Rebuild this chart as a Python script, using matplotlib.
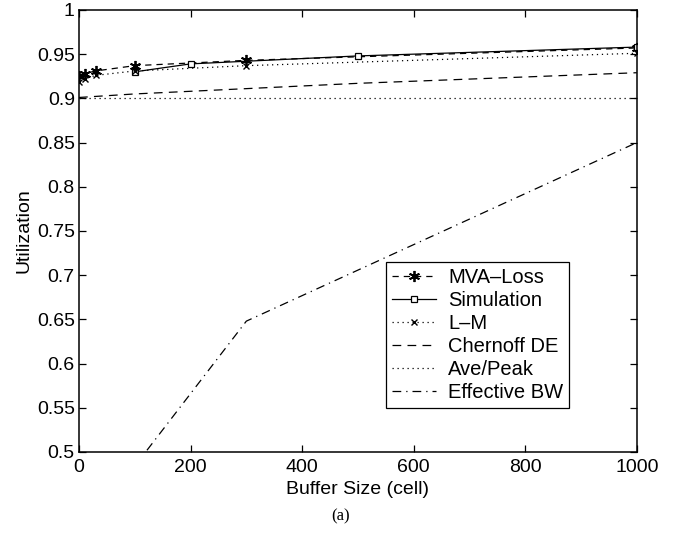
import matplotlib
matplotlib.use("Agg")
import matplotlib.pyplot as plt

plt.rcParams['font.family'] = ['Liberation Sans', 'DejaVu Sans']

# buffer sizes (cells) and utilization per method
mva_x = [0, 10, 30, 100, 300, 1000]
mva_y = [0.925, 0.928, 0.931, 0.937, 0.943, 0.957]

sim_x = [100, 200, 500, 1000]
sim_y = [0.930, 0.939, 0.948, 0.958]

lm_x = [0, 10, 30, 100, 300, 1000]
lm_y = [0.918, 0.922, 0.926, 0.931, 0.937, 0.951]

chern_x = [0, 100, 300, 500, 1000]
chern_y = [0.901, 0.905, 0.911, 0.917, 0.929]

avepeak_x = [0, 1000]
avepeak_y = [0.900, 0.900]

ebw_x = [100, 300, 1000]
ebw_y = [0.484, 0.648, 0.850]

xticks = [0, 200, 400, 600, 800, 1000]
yticks = [0.5, 0.55, 0.6, 0.65, 0.7, 0.75, 0.8, 0.85, 0.9, 0.95, 1.0]
yticklabels = ['0.5', '0.55', '0.6', '0.65', '0.7', '0.75', '0.8', '0.85', '0.9', '0.95', '1']

fig = plt.figure(figsize=(6.82, 5.38), dpi=100)
ax = fig.add_axes([0.1158, 0.1599, 0.818, 0.8216])

lw = 0.9
# (6, 2, 0) gives a six-armed asterisk
ax.plot(mva_x, mva_y, color='k', lw=lw, ls=(0, (5, 4)), marker=(6, 2, 0),
        ms=8, mew=1.3, label='MVA\u2013Loss')
ax.plot(sim_x, sim_y, color='k', lw=lw, ls='-', marker='s', ms=5,
        mfc='white', mew=0.9, label='Simulation')
ax.plot(lm_x, lm_y, color='k', lw=lw, ls=(0, (1, 3)), marker='x', ms=5,
        mew=1.0, label='L\u2013M')
ax.plot(chern_x, chern_y, color='k', lw=lw, ls=(0, (7, 5)), label='Chernoff DE')
ax.plot(avepeak_x, avepeak_y, color='k', lw=lw, ls=(0, (1, 3)), label='Ave/Peak')
ax.plot(ebw_x, ebw_y, color='k', lw=lw, ls=(0, (7, 4, 1, 4)), label='Effective BW')

ax.set_xlim(0, 1000)
ax.set_ylim(0.5, 1.0)
ax.set_xticks(xticks)
ax.set_yticks(yticks)
ax.set_yticklabels(yticklabels)
ax.tick_params(direction='in', top=True, right=True, length=5, width=0.9,
               labelsize=14)
ax.tick_params(axis='x', pad=5)
ax.tick_params(axis='y', pad=3)
for s in ax.spines.values():
    s.set_linewidth(1.1)

ax.set_xlabel('Buffer Size (cell)', fontsize=14, labelpad=4)
ax.set_ylabel('Utilization', fontsize=14, labelpad=3)

leg = ax.legend(loc='lower left', bbox_to_anchor=(0.55, 0.0995), fontsize=14.5,
                handlelength=2.2, handletextpad=0.6, labelspacing=0.2,
                borderpad=0.3, borderaxespad=0, fancybox=False, framealpha=1,
                edgecolor='k')
leg.get_frame().set_linewidth(0.9)

fig.text(0.5, 0.04, '(a)', ha='center', va='center', fontsize=12,
         family=['Liberation Serif', 'DejaVu Serif'])

fig.savefig('out.png', dpi=100)
